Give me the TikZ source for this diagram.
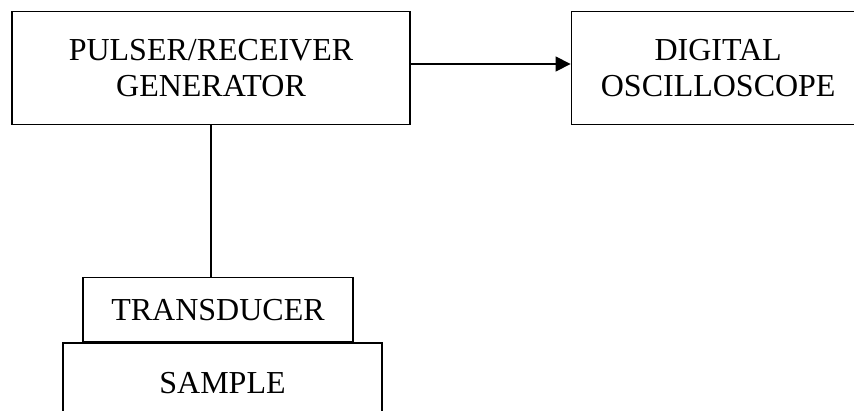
\documentclass[tikz,border=0pt]{standalone}
\usepackage{fontspec}
\setmainfont{Liberation Serif}
\usetikzlibrary{positioning,arrows.meta}

\begin{document}
\begin{tikzpicture}[
  block/.style={draw, line width=1.2pt, align=center, inner sep=0pt,
                font=\fontsize{32}{36}\selectfont},
  arr/.style={-{Triangle[length=15pt, width=15pt]}, line width=1.2pt},
]
  \useasboundingbox (0,0) rectangle (854pt,-410pt);

  \node[block, minimum width=398pt, minimum height=113pt] (pulser) at (211pt,-68pt) {PULSER/RECEIVER\\GENERATOR};
  \node[block, minimum width=294pt, minimum height=113pt, right=160pt of pulser] (scope) {DIGITAL\\OSCILLOSCOPE};
  \node[block, minimum width=270pt, minimum height=64pt, below=152pt of pulser, xshift=7pt] (trans) {TRANSDUCER};
  \node[block, minimum width=319pt, minimum height=80pt, below=0pt of trans, xshift=4.5pt] (sample) {SAMPLE};

  \draw[arr] ([yshift=4pt]pulser.east) -- ([yshift=4pt]scope.west);
  \draw[line width=1.4pt] (pulser.south) -- (pulser.south |- trans.north);
\end{tikzpicture}
\end{document}
